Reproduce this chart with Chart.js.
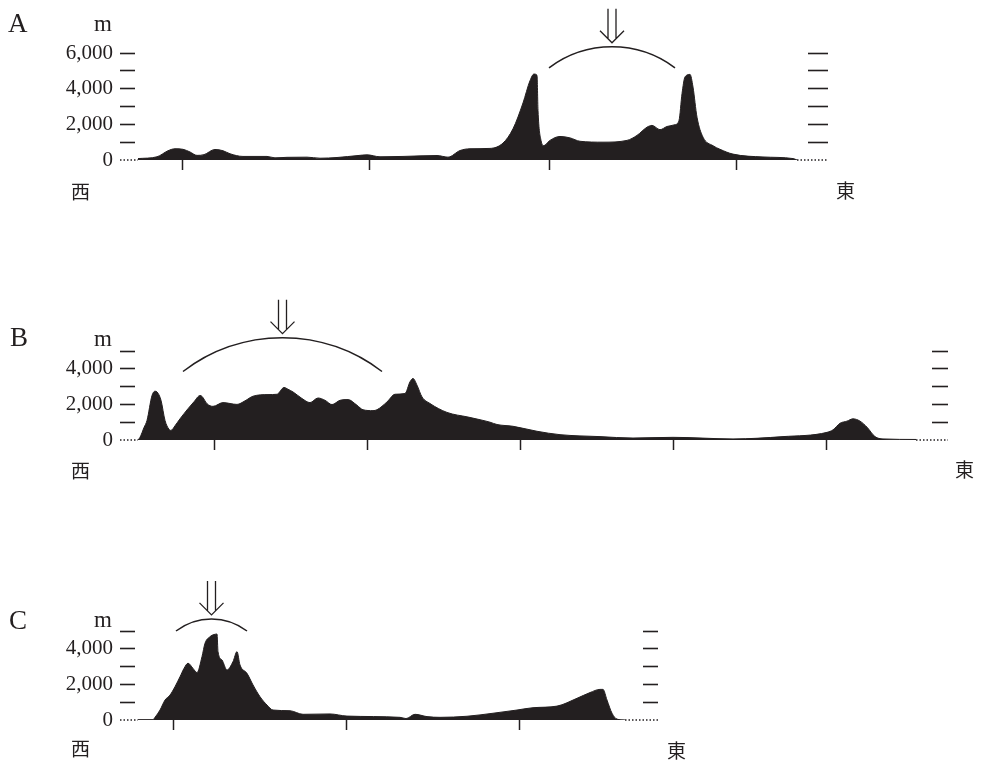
<!DOCTYPE html>
<html><head><meta charset="utf-8">
<script src="https://cdn.jsdelivr.net/npm/chart.js@4"></script>
<style>
html,body{margin:0;padding:0;background:#fff;}
#wrap{position:relative;width:982px;height:766px;overflow:hidden;background:#fff;}
canvas{position:absolute;left:0;}
.lab{position:absolute;font-family:"Liberation Serif","DejaVu Serif",serif;color:#231f20;line-height:1;white-space:nowrap;}
.cjk{position:absolute;font-family:"Noto Sans CJK JP",sans-serif;color:#231f20;line-height:1;font-size:19px;white-space:nowrap;}
</style></head><body><div id="wrap">
<canvas id="cA" width="982" height="200" style="top:0px;width:982px;height:200px"></canvas>
<canvas id="cB" width="982" height="200" style="top:280px;width:982px;height:200px"></canvas>
<canvas id="cC" width="982" height="200" style="top:560px;width:982px;height:200px"></canvas>
<div class="lab" style="left:8px;top:10px;font-size:27px">A</div>
<div class="lab" style="left:94px;top:12px;font-size:23px">m</div>
<div class="cjk" style="left:71px;top:181px">西</div>
<div class="cjk" style="left:836px;top:180px">東</div>
<div class="lab" style="left:10px;top:324px;font-size:27px">B</div>
<div class="lab" style="left:94px;top:327px;font-size:23px">m</div>
<div class="cjk" style="left:71px;top:460px">西</div>
<div class="cjk" style="left:955px;top:459px">東</div>
<div class="lab" style="left:9px;top:607px;font-size:27px">C</div>
<div class="lab" style="left:94px;top:608px;font-size:23px">m</div>
<div class="cjk" style="left:71px;top:738px">西</div>
<div class="cjk" style="left:667px;top:740px">東</div>
</div>
<script>
// ---- Profile A (distance from west end, elevation m) ----
const distA = [0,19,30,37,45,52,59,66,77,85,92,105,129,137,149,169,182,199,220,229,242,265,299,310,322,332,352,365,375,385,392,396,399,400,403,406,410,412,422,432,442,465,489,499,509,514,522,529,537,541,544,547,552,555,559,565,575,582,595,625,655,659];
const elevA = [80,180,520,630,600,450,260,300,590,520,350,200,200,120,150,160,100,140,250,290,180,200,250,160,530,630,650,950,1750,3200,4450,4820,4750,2780,1100,810,1000,1100,1320,1240,1050,1000,1100,1380,1840,1940,1700,1880,1980,2220,3720,4660,4800,4090,2400,1280,800,600,330,170,80,0];
const ticksA = [44,231,411,598];

// ---- Profile B ----
const distB = [0,2,6,9,14,17,19,23,27,31,33,37,42,50,56,62,64,69,75,85,99,107,115,130,139,146,150,155,164,172,180,187,194,202,210,219,225,235,239,249,257,267,272,275,279,284,292,309,330,342,352,359,375,399,422,462,495,535,595,645,689,695,702,709,715,722,729,737,745,778];
const elevB = [0,150,700,1100,2500,2740,2700,2230,1100,600,540,800,1190,1760,2150,2500,2450,2040,1890,2100,2000,2200,2460,2550,2570,2950,2850,2700,2330,2100,2360,2230,1990,2230,2270,1950,1700,1650,1700,2140,2570,2610,3270,3460,3080,2420,2050,1550,1290,1140,1000,870,770,490,300,190,110,150,60,190,430,570,940,1060,1190,1060,720,190,60,30];
const ticksB = [76,229,382,535,688];

// ---- Profile C ----
const distC = [0,15,17,22,27,32,37,42,46,50,55,59,64,67,72,76,79,80,84,89,95,99,102,109,115,122,129,135,152,165,192,209,262,268,277,289,302,329,355,379,395,419,439,452,462,465,469,474,479,487];
const elevC = [20,20,150,560,1120,1400,1870,2430,2900,3190,2900,2660,3560,4310,4680,4800,4830,3840,3370,2810,3280,3840,3090,2620,1970,1310,840,560,520,320,340,220,150,80,320,190,150,210,380,560,690,780,1220,1540,1720,1720,1120,380,50,0];
const ticksC = [35,208,381];

// Arc (bracket) over the region marked with the arrow: [x start, x end, elev at ends, elev at top]
const arcA = [411,537,5170,6350];
const arcB = [45,244,3850,5750];
const arcC = [38,109,5000,5680];

const INK = '#231f20';

const marks = {
  id: 'profileMarks',
  afterDraw(chart, args, o) {
    const ctx = chart.ctx, xs = chart.scales.x, ys = chart.scales.y, ca = chart.chartArea;
    const y0 = ys.getPixelForValue(0);
    ctx.save();
    ctx.strokeStyle = INK;
    ctx.lineWidth = 1.5;
    ctx.setLineDash([1.5, 2]);
    ctx.beginPath();
    ctx.moveTo(ca.left - 15, y0);
    ctx.lineTo(xs.getPixelForValue(o.dataStart), y0);
    ctx.moveTo(xs.getPixelForValue(o.dataEnd), y0);
    ctx.lineTo(ca.right + o.rightTick, y0);
    ctx.stroke();
    ctx.setLineDash([]);
    const a = o.arc;
    const p1 = xs.getPixelForValue(a[0]), p2 = xs.getPixelForValue(a[1]);
    const pe = ys.getPixelForValue(a[2]), pt = ys.getPixelForValue(a[3]);
    const pc = (p1 + p2) / 2, half = (p2 - p1) / 2, sag = pe - pt;
    const r = (half * half + sag * sag) / (2 * sag);
    const cy = pt + r;
    ctx.lineWidth = 1.5;
    ctx.beginPath();
    ctx.arc(pc, cy, r, Math.atan2(pe - cy, p1 - pc), Math.atan2(pe - cy, p2 - pc), false);
    ctx.stroke();
    const tip = pt - 4;
    ctx.lineWidth = 1.3;
    ctx.beginPath();
    ctx.moveTo(pc - 4, tip - 34); ctx.lineTo(pc - 4, tip - 4.5);
    ctx.moveTo(pc + 4, tip - 34); ctx.lineTo(pc + 4, tip - 4.5);
    ctx.moveTo(pc - 12, tip - 12); ctx.lineTo(pc, tip); ctx.lineTo(pc + 12, tip - 12);
    ctx.stroke();
    ctx.restore();
  }
};

function panel(id, dist, elev, ticks, yMax, padTop, right, rightTick, arc) {
  const pts = dist.map((d, i) => ({x: d, y: elev[i]}));
  const hideZero = c => (c.tick && c.tick.value === 0) ? 'rgba(0,0,0,0)' : INK;
  new Chart(document.getElementById(id), {
    type: 'line',
    data: {datasets: [{
      data: pts, fill: 'origin', backgroundColor: INK, borderColor: INK, borderWidth: 1,
      pointRadius: 0, cubicInterpolationMode: 'monotone', tension: 0.4
    }]},
    options: {
      responsive: false, animation: false, events: [],
      layout: {padding: {top: padTop, left: 0, bottom: 0, right: 982 - right - rightTick}},
      plugins: {
        legend: {display: false}, tooltip: {enabled: false},
        profileMarks: {dataStart: dist[0], dataEnd: dist[dist.length - 1], rightTick: rightTick, arc: arc}
      },
      scales: {
        x: {
          type: 'linear', min: -3, max: right - 138,
          afterBuildTicks: s => { s.ticks = ticks.map(v => ({value: v})); },
          ticks: {display: false, autoSkip: false},
          grid: {drawOnChartArea: false, drawTicks: true, tickLength: 10, tickWidth: 1.5, tickColor: INK},
          border: {display: false},
          afterFit: s => { s.height = 40; }
        },
        y: {
          position: 'left', min: 0, max: yMax,
          ticks: {
            stepSize: 1000, padding: 7, color: INK, autoSkip: false,
            font: {family: '"Liberation Serif", "DejaVu Serif", serif', size: 21},
            callback: v => (v % 2000 === 0) ? v.toLocaleString('en-US') : ''
          },
          grid: {drawOnChartArea: false, drawTicks: true, tickLength: 15, tickWidth: 1.6, tickColor: hideZero},
          border: {display: false},
          afterFit: s => { s.width = 135; }
        },
        y2: {
          position: 'right', min: 0, max: yMax,
          ticks: {stepSize: 1000, display: false, autoSkip: false},
          grid: {drawOnChartArea: false, drawTicks: true, tickLength: rightTick, tickWidth: 1.6, tickColor: hideZero},
          border: {display: false},
          afterFit: s => { s.width = rightTick; }
        }
      }
    },
    plugins: [marks]
  });
}

panel('cA', distA, elevA, ticksA, 6000, 53, 808, 20, arcA);
panel('cB', distB, elevB, ticksB, 5000, 71, 932, 16, arcB);
panel('cC', distC, elevC, ticksC, 5000, 71, 643, 15, arcC);
</script>
</body></html>
